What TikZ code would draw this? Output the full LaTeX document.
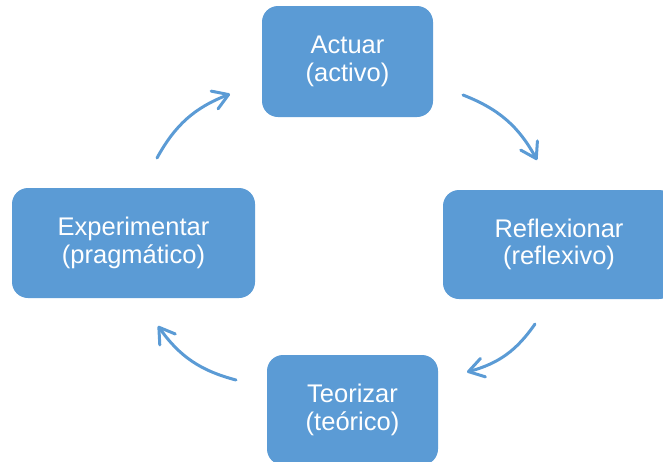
\documentclass[tikz,border=0pt]{standalone}
\usepackage{fontspec}
\setmainfont{Liberation Sans}
\usetikzlibrary{arrows.meta}
\definecolor{boxblue}{HTML}{5B9BD5}
\tikzset{
  stagebox/.style={rectangle, rounded corners=16pt, fill=boxblue, draw=none,
    text=white, align=center, inner sep=0pt,
    font=\fontsize{25.5}{27.5}\selectfont},
  cyclearrow/.style={draw=boxblue, line width=3pt, line cap=round,
    -{Straight Barb[length=15pt, width=19pt, line cap=round, line join=round]}, bend left=20}
}
\begin{document}
\begin{tikzpicture}[x=1pt, y=-1pt]
\useasboundingbox (0,0) rectangle (663,461);
\clip (0,0) rectangle (663,461);
\node[stagebox, minimum width=171pt, minimum height=111pt] (act) at (347.5,61.5) {Actuar\\(activo)};
\node[stagebox, minimum width=232pt, minimum height=109pt] (ref) at (559,244.5) {Reflexionar\\(reflexivo)};
\node[stagebox, minimum width=171pt, minimum height=110pt] (teo) at (352.5,410) {Teorizar\\(teórico)};
\node[stagebox, minimum width=243pt, minimum height=110pt] (exp) at (133.5,243) {Experimentar\\(pragmático)};
\coordinate (a1s) at (463,95);  \coordinate (a1e) at (537,160);
\coordinate (a2s) at (535,324); \coordinate (a2e) at (467,372);
\coordinate (a3s) at (236,380); \coordinate (a3e) at (158,326);
\coordinate (a4s) at (157,158); \coordinate (a4e) at (230,94);
\draw[cyclearrow] (a1s) to (a1e);
\draw[cyclearrow] (a2s) to (a2e);
\draw[cyclearrow] (a3s) to (a3e);
\draw[cyclearrow] (a4s) to (a4e);
\end{tikzpicture}
\end{document}
